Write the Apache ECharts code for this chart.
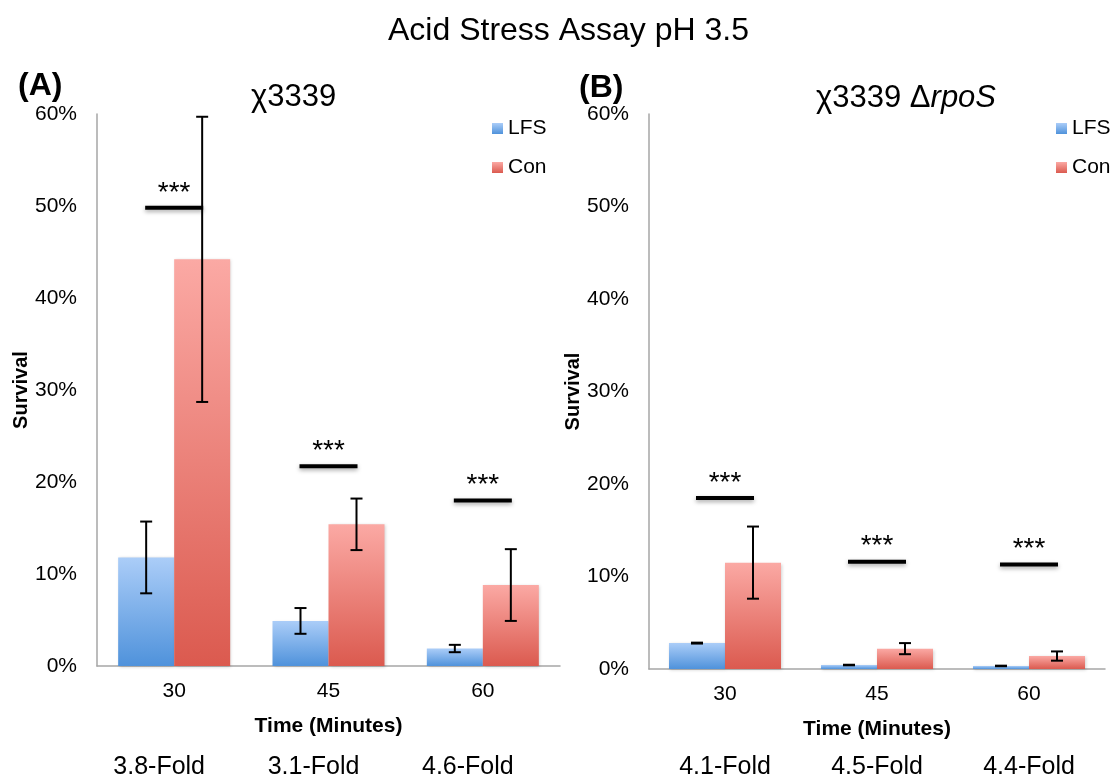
<!DOCTYPE html>
<html>
<head>
<meta charset="utf-8">
<script src="https://cdn.jsdelivr.net/npm/echarts@6/dist/echarts.min.js"></script>
<style>
  html, body { margin: 0; padding: 0; background: #ffffff; }
  #main { width: 1112px; height: 780px; }
</style>
</head>
<body>
<div id="main"></div>
<script>
// time points and fold-change labels
const categories = ['30', '45', '60']
const foldA = ['3.8-Fold', '3.1-Fold', '4.6-Fold']
const foldB = ['4.1-Fold', '4.5-Fold', '4.4-Fold']

// survival in %, panel A (χ3339)
const lfsA = [11.8, 4.9, 1.9]
const lfsErrA = [3.9, 1.4, 0.4]
const conA = [44.2, 15.4, 8.8]
const conErrA = [15.5, 2.8, 3.9]
const sigA = [49.8, 21.7, 18.0]

// survival in %, panel B (χ3339 ΔrpoS)
const lfsB = [2.8, 0.43, 0.33]
const lfsErrB = [0.05, 0.03, 0.03]
const conB = [11.5, 2.2, 1.4]
const conErrB = [3.9, 0.6, 0.5]
const sigB = [18.5, 11.6, 11.3]

const FONT = 'Liberation Sans, Arial, sans-serif'
const BAR_W = 56

const lfsColor = new echarts.graphic.LinearGradient(0, 0, 0, 1, [
  { offset: 0, color: '#abcdf8' },
  { offset: 1, color: '#4f92db' }
])
const conColor = new echarts.graphic.LinearGradient(0, 0, 0, 1, [
  { offset: 0, color: '#fba9a4' },
  { offset: 1, color: '#db5a4f' }
])

function errBars (offset) {
  return function (params, api) {
    const x = api.value(0)
    const v = api.value(1)
    const e = api.value(2)
    const hi = api.coord([x, v + e])
    const lo = api.coord([x, v - e])
    const cx = hi[0] + offset
    const st = { stroke: '#000', lineWidth: 2 }
    return {
      type: 'group',
      children: [
        { type: 'line', shape: { x1: cx, y1: hi[1], x2: cx, y2: lo[1] }, style: st },
        { type: 'line', shape: { x1: cx - 6, y1: hi[1], x2: cx + 6, y2: hi[1] }, style: st },
        { type: 'line', shape: { x1: cx - 6, y1: lo[1], x2: cx + 6, y2: lo[1] }, style: st }
      ]
    }
  }
}

function sigMarks (params, api) {
  const p = api.coord([api.value(0), api.value(1)])
  return {
    type: 'group',
    children: [
      {
        type: 'line',
        shape: { x1: p[0] - 29, y1: p[1], x2: p[0] + 29, y2: p[1] },
        style: { stroke: '#000', lineWidth: 4, shadowBlur: 4, shadowOffsetY: 2, shadowColor: 'rgba(0,0,0,0.35)' }
      },
      {
        type: 'text',
        x: p[0],
        y: p[1] - 15,
        style: { text: '***', fontFamily: FONT, fontSize: 28, fill: '#000', align: 'center', verticalAlign: 'middle' }
      }
    ]
  }
}

function catAxis (grid) {
  return {
    type: 'category',
    gridIndex: grid,
    data: categories,
    name: 'Time (Minutes)',
    nameLocation: 'middle',
    nameGap: 50,
    nameTextStyle: { fontFamily: FONT, fontSize: 21, fontWeight: 'bold', color: '#000' },
    axisLine: { lineStyle: { color: '#a6a6a6', width: 1.5 } },
    axisTick: { show: false },
    axisLabel: { fontFamily: FONT, fontSize: 21, color: '#000', margin: 15 }
  }
}

function foldAxis (grid, labels, margin, pad) {
  return {
    type: 'category',
    gridIndex: grid,
    position: 'bottom',
    offset: 80,
    data: labels,
    axisLine: { show: false },
    axisTick: { show: false },
    axisLabel: { fontFamily: FONT, fontSize: 25, color: '#000', margin: margin, padding: [0, pad, 0, 0] }
  }
}

function valAxis (grid) {
  return {
    type: 'value',
    gridIndex: grid,
    min: 0,
    max: 60,
    interval: 10,
    name: 'Survival',
    nameLocation: 'middle',
    nameGap: 65,
    nameTextStyle: { fontFamily: FONT, fontSize: 20, fontWeight: 'bold', color: '#000' },
    axisLine: { show: true, lineStyle: { color: '#a6a6a6', width: 1.5 } },
    axisTick: { show: false },
    splitLine: { show: false },
    axisLabel: { fontFamily: FONT, fontSize: 21, color: '#000', margin: 20, padding: [5, 0, 0, 0], formatter: '{value}%' }
  }
}

function bar (name, xi, yi, vals, color) {
  return {
    name: name,
    type: 'bar',
    xAxisIndex: xi,
    yAxisIndex: yi,
    data: vals,
    barWidth: BAR_W,
    barGap: '0%',
    itemStyle: { color: color, shadowBlur: 3, shadowOffsetX: 1, shadowOffsetY: 1, shadowColor: 'rgba(0,0,0,0.18)' },
    z: 2
  }
}

function err (xi, yi, vals, errs, offset) {
  return {
    type: 'custom',
    xAxisIndex: xi,
    yAxisIndex: yi,
    renderItem: errBars(offset),
    data: vals.map((v, i) => [i, v, errs[i]]),
    z: 5,
    silent: true
  }
}

function sig (xi, yi, vals) {
  return {
    type: 'custom',
    xAxisIndex: xi,
    yAxisIndex: yi,
    renderItem: sigMarks,
    data: vals.map((v, i) => [i, v]),
    z: 6,
    silent: true
  }
}

function legend (left) {
  return {
    left: left,
    top: 113,
    orient: 'vertical',
    icon: 'rect',
    itemWidth: 11,
    itemHeight: 11,
    itemGap: 18,
    selectedMode: false,
    textStyle: { fontFamily: FONT, fontSize: 21, color: '#000' },
    data: ['LFS', 'Con']
  }
}

const option = {
  animation: false,
  backgroundColor: '#ffffff',
  title: [
    { text: 'Acid Stress Assay pH 3.5', left: 383, top: 10, textStyle: { fontFamily: FONT, fontSize: 32, fontWeight: 'normal', color: '#000' } },
    { text: '(A)', left: 13, top: 65, textStyle: { fontFamily: FONT, fontSize: 32, fontWeight: 'bold', color: '#000' } },
    { text: '(B)', left: 574, top: 67, textStyle: { fontFamily: FONT, fontSize: 32, fontWeight: 'bold', color: '#000' } },
    { text: 'χ3339', left: 246, top: 77, textStyle: { fontFamily: FONT, fontSize: 31, fontWeight: 'normal', color: '#000' } },
    {
      text: 'χ3339 Δ{i|rpoS}',
      left: 811,
      top: 78,
      textStyle: {
        fontFamily: FONT,
        fontSize: 31,
        fontWeight: 'normal',
        color: '#000',
        rich: { i: { fontFamily: FONT, fontSize: 31, fontStyle: 'italic', color: '#000' } }
      }
    }
  ],
  legend: [legend(487), legend(1051)],
  grid: [
    { left: 97, right: 552, top: 114, bottom: 114 },
    { left: 649, right: 7, top: 114, bottom: 111 }
  ],
  xAxis: [
    catAxis(0),
    foldAxis(0, foldA, 9, 30),
    catAxis(1),
    foldAxis(1, foldB, 6, 0)
  ],
  yAxis: [valAxis(0), valAxis(1)],
  series: [
    bar('LFS', 0, 0, lfsA, lfsColor),
    bar('Con', 0, 0, conA, conColor),
    bar('LFS', 2, 1, lfsB, lfsColor),
    bar('Con', 2, 1, conB, conColor),
    err(0, 0, lfsA, lfsErrA, -BAR_W / 2),
    err(0, 0, conA, conErrA, BAR_W / 2),
    err(2, 1, lfsB, lfsErrB, -BAR_W / 2),
    err(2, 1, conB, conErrB, BAR_W / 2),
    sig(0, 0, sigA),
    sig(2, 1, sigB)
  ]
}

const myChart = echarts.init(document.getElementById('main'))
myChart.setOption(option)
</script>
</body>
</html>
